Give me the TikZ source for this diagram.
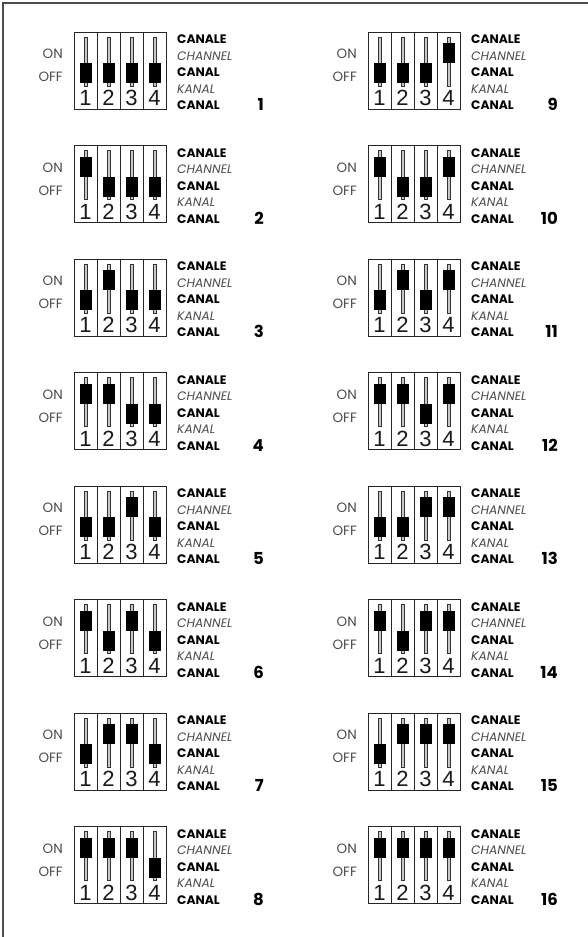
\documentclass[tikz,border=0pt]{standalone}
\usepackage{fontspec}
\setmainfont{Poppins}
\newfontfamily\digitfont{Liberation Sans}
\definecolor{labgray}{HTML}{4A4A4A}
\definecolor{trackgray}{HTML}{C8C8C8}
\tikzset{
  boxline/.style={draw=black!85, line width=0.9pt},
  trackbar/.style={draw=black!80, fill=trackgray, line width=0.6pt},
  knob/.style={fill=black},
  digit/.style={font=\digitfont\fontsize{22}{22}\selectfont, inner sep=0pt, anchor=base, text=black!90},
  onoff/.style={font=\fontsize{13.5}{13.5}\selectfont, text=labgray, inner sep=0pt, anchor=east},
  boldlab/.style={font=\bfseries\fontsize{12.3}{12.3}\selectfont, inner sep=0pt, anchor=base west},
  itallab/.style={font=\itshape\fontsize{12.3}{12.3}\selectfont, text=labgray, inner sep=0pt, anchor=base west},
  chnum/.style={font=\bfseries\fontsize{16.5}{16.5}\selectfont, inner sep=0pt, anchor=base east},
}
\begin{document}
\begin{tikzpicture}[x=1pt,y=-1pt]
\useasboundingbox (0,0) rectangle (588,937);
\draw[line width=1.3pt, black!70] (3,937) -- (3,3) -- (588,3);
\foreach \n in {1,...,16}{
  \pgfmathtruncatemacro{\col}{int((\n-1)/8)}
  \pgfmathtruncatemacro{\row}{mod(\n-1,8)}
  \pgfmathsetmacro{\xo}{74+294*\col}
  \pgfmathsetmacro{\yo}{32+113.5*\row}
  \begin{scope}[shift={(\xo,\yo)}]
    \draw[boxline] (0,0) rectangle (92,77);
    \foreach \k in {1,2,3}{
      \draw[boxline] (23*\k,0) -- (23*\k,77);
    }
    \foreach \s in {1,2,3,4}{
      \pgfmathtruncatemacro{\bit}{mod(int((\n-1)/(2^(\s-1))),2)}
      \pgfmathsetmacro{\cx}{23*\s-11.5}
      \pgfmathsetmacro{\ky}{\bit==1 ? 11 : 31}
      \draw[trackbar] (\cx-1.6,5) rectangle (\cx+1.6,54);
      \fill[knob] (\cx-6,\ky) rectangle ++(12,20);
      \node[digit] (d\n-\s) at (\cx,73.5) {\s};
    }
    \node[onoff] (on\n) at (-11,22) {ON};
    \node[onoff] (off\n) at (-11,45) {OFF};
    \node[boldlab] (la\n) at (103,11.5) {CANALE};
    \node[itallab] (lb\n) at (103,28) {CHANNEL};
    \node[boldlab] (lc\n) at (103,44.5) {CANAL};
    \node[itallab] (ld\n) at (103,61) {KANAL};
    \node[boldlab] (le\n) at (103,77.5) {CANAL};
    \node[chnum] (num\n) at (190,78.8) {\n};
  \end{scope}
}
\end{tikzpicture}
\end{document}
